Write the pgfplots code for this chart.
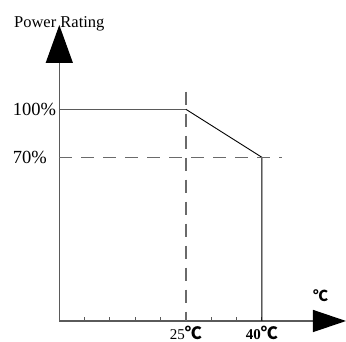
\documentclass[border=0pt]{standalone}
\usepackage{fontspec}
\setmainfont{Liberation Serif}
\newfontfamily\cjk{Noto Sans CJK SC}
\usepackage{pgfplots}
\pgfplotsset{compat=1.18}
\usetikzlibrary{arrows.meta}
\newcommand{\degC}{{\cjk\bfseries\fontsize{17}{17}\selectfont ℃}}
\definecolor{axisgray}{HTML}{5A5A5A}
\definecolor{dashgray}{HTML}{6A6A6A}
\begin{document}
\begin{tikzpicture}[x=1pt,y=1pt]
\useasboundingbox (-59.3,-21) rectangle (286.7,321);
\begin{axis}[
  scale only axis, width=286.7pt, height=296pt,
  xmin=0, xmax=56.6, ymin=-32.3, ymax=152.7,
  axis lines=left,
  axis line style={draw=axisgray, line width=1.3pt},
  x axis line style={-{Triangle[length=33pt,width=22pt,color=black]}},
  y axis line style={-{Triangle[length=38pt,width=27pt,color=black]}},
  xtick={5,10,...,40},
  xticklabels={,,,,25\degC,,,\textbf{40}\degC},
  ytick={70,100},
  yticklabels={70\%\hphantom{0},100\%},
  tick align=inside, major tick length=4pt,
  xtick style={draw=axisgray, line width=1pt},
  ytick style={draw=none},
  xticklabel style={font=\fontsize{15}{15}\selectfont, inner sep=2pt, yshift=-3pt},
  yticklabel style={font=\fontsize{18.5}{18.5}\selectfont, inner sep=3pt},
  clip=false,
]
\addplot[draw=axisgray, line width=1.2pt] coordinates {(0,100) (25,100)};
\addplot[draw=black, line width=0.9pt] coordinates {(25,100) (40,70) (40,-32.3)};
\addplot[draw=dashgray, line width=1.2pt, dash pattern=on 13pt off 9pt] coordinates {(0,70) (44,70)};
\addplot[draw=dashgray, line width=1.2pt, dash pattern=on 13pt off 9pt] coordinates {(25,111) (25,-32.3)};
\coordinate (pr) at (axis cs:0,151.25);
\coordinate (dc) at (axis cs:51.6,-16.7);
\end{axis}
\node[anchor=base, inner sep=0pt, font=\fontsize{16.5}{16.5}\selectfont] at (pr) {Power Rating};
\node[inner sep=0pt] at (dc) {{\cjk\bfseries\fontsize{15}{15}\selectfont ℃}};
\end{tikzpicture}
\end{document}
